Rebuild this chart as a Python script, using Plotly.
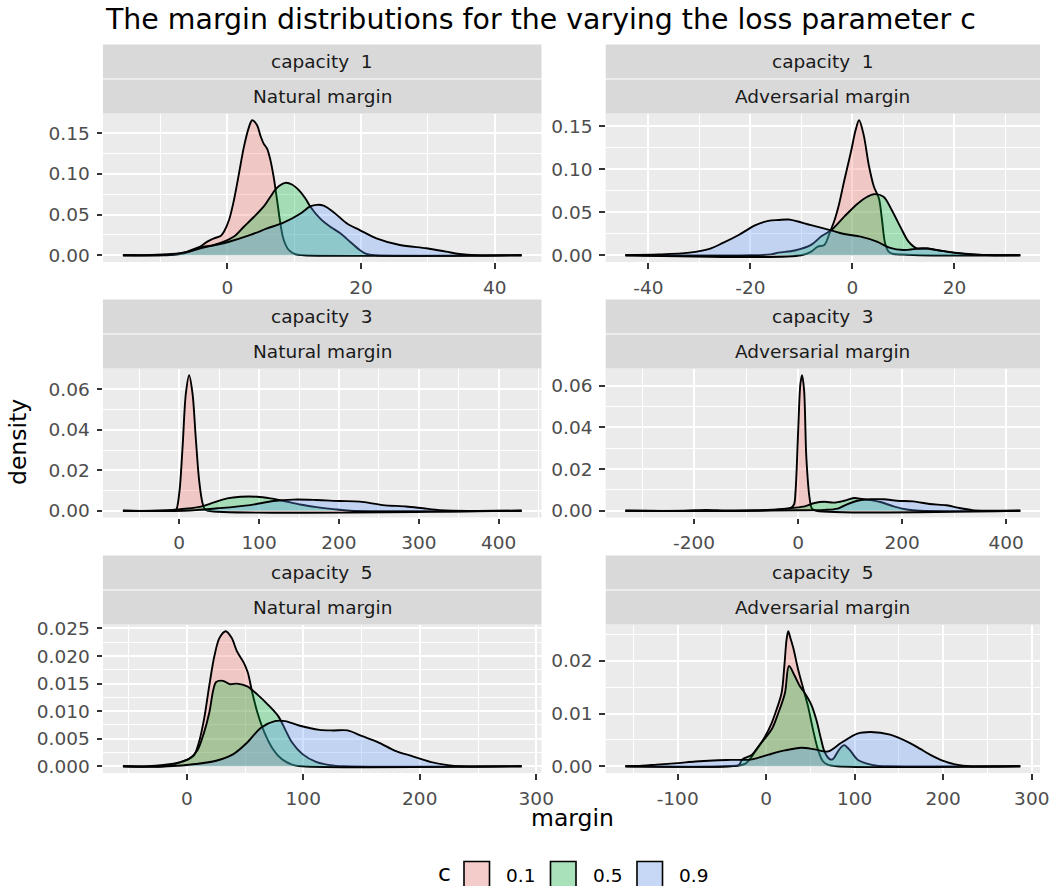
import plotly.graph_objects as go

# ---------------- data ----------------
C_LEVELS = ["0.1", "0.5", "0.9"]
ROW_LABELS = ["capacity\u00a0\u00a01", "capacity\u00a0\u00a03", "capacity\u00a0\u00a05"]
COL_LABELS = ["Natural margin", "Adversarial margin"]

# x tick positions per panel (labels use a plain hyphen like the reference)
n1_xticks = [0, 20, 40]
a1_xticks = [-40, -20, 0, 20]
n3_xticks = [0, 100, 200, 300, 400]
a3_xticks = [-200, 0, 200, 400]
n5_xticks = [0, 100, 200, 300]
a5_xticks = [-100, 0, 100, 200, 300]

# capacity 1, natural margin
n1_x_c01 = [-15.6, -8.5, -6.45, -4.46, -2.98, -1.98, -1.0, -0.5, 0.25, 1.0, 1.74, 2.48, 3.22, 3.72, 4.46, 4.96, 5.46, 5.95, 6.45, 6.94, 7.44, 7.94, 8.43, 9.18, 10.2, 11.4, 44.0]
n1_y_c01 = [0, 0.0003, 0.0024, 0.0086, 0.0167, 0.0208, 0.0237, 0.029, 0.043, 0.068, 0.100, 0.133, 0.157, 0.166, 0.160, 0.147, 0.137, 0.131, 0.117, 0.096, 0.068, 0.039, 0.019, 0.0065, 0.0012, 0, 0]
n1_x_c05 = [-15.6, -8.9, -5.95, -4.46, -3.47, -1.98, 1.0, 2.48, 3.97, 5.46, 6.45, 7.44, 8.68, 9.67, 10.7, 11.66, 12.4, 13.9, 15.4, 16.9, 18.35, 19.8, 20.8, 22.3, 44.0]
n1_y_c05 = [0, 0.0004, 0.0045, 0.0094, 0.0106, 0.0126, 0.023, 0.035, 0.047, 0.060, 0.072, 0.083, 0.089, 0.087, 0.080, 0.070, 0.060, 0.045, 0.035, 0.027, 0.0167, 0.0065, 0.0016, 0, 0]
n1_x_c09 = [-15.6, -11.4, -6.45, -4.0, 0.0, 3.47, 5.95, 8.4, 10.9, 12.4, 13.4, 14.4, 15.9, 17.9, 19.8, 22.3, 25.8, 29.8, 32.7, 34.7, 37.2, 44.0]
n1_y_c09 = [0, 0.0004, 0.0033, 0.0086, 0.016, 0.025, 0.033, 0.040, 0.051, 0.060, 0.062, 0.061, 0.053, 0.039, 0.031, 0.0208, 0.0126, 0.0086, 0.0045, 0.0016, 0, 0]

# capacity 1, adversarial margin
a1_x_c01 = [-44.5, -10.0, -8.1, -6.8, -5.5, -4.5, -3.5, -2.6, -1.6, -0.3, 0.6, 1.3, 2.2, 3.2, 4.2, 5.2, 5.8, 6.4, 7.1, 8.0, 10.0, 13.0, 32.9]
a1_y_c01 = [0, 0, 0.0042, 0.010, 0.012, 0.0255, 0.041, 0.060, 0.087, 0.120, 0.145, 0.157, 0.140, 0.105, 0.080, 0.066, 0.041, 0.014, 0.0042, 0.0015, 0.0008, 0, 0]
a1_x_c05 = [-44.5, -20.0, -16.0, -14.5, -11.3, -8.1, -6.1, -4.2, -1.6, 1.0, 2.9, 4.2, 6.1, 7.7, 9.4, 11.0, 12.6, 15.1, 16.5, 20.0, 24.0, 28.0, 32.9]
a1_y_c05 = [0, 0, 0.001, 0.003, 0.0055, 0.012, 0.022, 0.029, 0.045, 0.060, 0.068, 0.071, 0.068, 0.0526, 0.033, 0.0158, 0.0081, 0.0077, 0.006, 0.003, 0.0008, 0, 0]
a1_x_c09 = [-44.5, -38.0, -32.0, -28.0, -25.5, -22.3, -19.0, -16.5, -14.5, -12.5, -8.1, -4.2, -1.6, 1.6, 4.8, 7.4, 10.0, 13.9, 16.5, 19.7, 23.0, 28.0, 32.9]
a1_y_c09 = [0, 0.0008, 0.003, 0.0075, 0.014, 0.0236, 0.035, 0.040, 0.041, 0.0415, 0.035, 0.029, 0.0247, 0.0216, 0.0158, 0.0085, 0.0061, 0.0081, 0.0061, 0.003, 0.001, 0, 0]

# capacity 3, natural margin
n3_x_c01 = [-70.5, -8.0, -4.1, 0.0, 4.1, 8.3, 12.4, 16.6, 20.7, 24.9, 29.0, 32.0, 36.0, 428.6]
n3_y_c01 = [0, 0, 0.0003, 0.0086, 0.031, 0.058, 0.067, 0.058, 0.036, 0.015, 0.004, 0.0008, 0, 0]
n3_x_c05 = [-70.5, -35.0, -2.0, 27.0, 43.6, 60.0, 76.8, 97.5, 114.0, 131.0, 151.0, 172.0, 193.0, 214.0, 428.6]
n3_y_c05 = [0, 0, 0.0006, 0.002, 0.0041, 0.0061, 0.0069, 0.0069, 0.0061, 0.0048, 0.0031, 0.0018, 0.0008, 0, 0]
n3_x_c09 = [-70.5, 6.0, 48.0, 89.0, 118.0, 143.0, 172.0, 201.0, 226.0, 255.0, 284.0, 305.0, 326.0, 342.0, 428.6]
n3_y_c09 = [0, 0, 0.0012, 0.0028, 0.0048, 0.0055, 0.0053, 0.0048, 0.0045, 0.0028, 0.0021, 0.0012, 0.0003, 0, 0]

# capacity 3, adversarial margin
a3_x_c01 = [-332.0, -100.0, -50.0, -15.0, -8.0, -5.0, 0.0, 4.4, 7.6, 11.4, 15.8, 22.0, 26.6, 35.0, 427.0]
a3_y_c01 = [0, 0, 0.0005, 0.0012, 0.003, 0.0093, 0.038, 0.061, 0.065, 0.058, 0.0254, 0.006, 0.001, 0, 0]
a3_x_c05 = [-332.0, -89.0, -50.0, -12.7, 12.7, 31.6, 50.6, 69.6, 88.6, 107.6, 123.0, 139.0, 158.0, 183.5, 209.0, 234.0, 427.0]
a3_y_c05 = [0, 0, 0.0003, 0.0013, 0.0021, 0.0037, 0.0043, 0.0039, 0.0048, 0.0061, 0.0056, 0.0051, 0.0042, 0.0021, 0.0006, 0, 0]
a3_x_c09 = [-332.0, -220.0, -177.0, -140.0, -100.0, 0.0, 50.6, 76.0, 95.0, 114.0, 139.0, 165.0, 190.0, 221.5, 253.0, 285.0, 310.0, 335.0, 361.0, 427.0]
a3_y_c09 = [0, 0, 0.0004, 0.0001, 0.0001, 0.0002, 0.0004, 0.001, 0.0032, 0.0048, 0.0055, 0.0055, 0.0048, 0.0045, 0.0032, 0.0026, 0.0013, 0.0003, 0, 0]

# capacity 5, natural margin
n5_x_c01 = [-54.8, -19.0, -4.4, 5.9, 10.4, 14.8, 19.3, 23.7, 28.1, 33.5, 38.5, 43.0, 48.9, 52.4, 56.3, 60.7, 66.7, 74.0, 81.5, 90.4, 99.0, 287.4]
n5_y_c01 = [0, 0, 0.0008, 0.0019, 0.0043, 0.0085, 0.0146, 0.020, 0.0233, 0.0245, 0.0233, 0.0209, 0.0188, 0.017, 0.0133, 0.0097, 0.0061, 0.0031, 0.0013, 0.0003, 0, 0]
n5_x_c05 = [-54.8, -34.0, -10.4, 1.5, 8.9, 14.8, 19.3, 22.8, 25.2, 31.1, 37.0, 43.0, 51.9, 60.7, 69.6, 78.5, 84.4, 90.4, 99.3, 111.0, 123.0, 135.0, 287.4]
n5_y_c05 = [0, 0, 0.0005, 0.0013, 0.0028, 0.0061, 0.0097, 0.0139, 0.0153, 0.0155, 0.0149, 0.015, 0.0145, 0.013, 0.0112, 0.0091, 0.0067, 0.0043, 0.0022, 0.0008, 0.0002, 0, 0]
n5_x_c09 = [-54.8, -16.0, 7.4, 25.2, 40.0, 51.9, 63.7, 75.6, 84.4, 96.3, 114.0, 126.0, 138.0, 150.0, 164.0, 179.0, 194.0, 209.0, 224.0, 235.5, 287.4]
n5_y_c09 = [0, 0, 0.0004, 0.001, 0.0022, 0.0043, 0.007, 0.0082, 0.0082, 0.0074, 0.0066, 0.0065, 0.0065, 0.0055, 0.0044, 0.0028, 0.0018, 0.0008, 0.0002, 0, 0]

# capacity 5, adversarial margin
a5_x_c01 = [-159.0, -45.7, -23.4, -12.3, -1.1, 6.2, 11.8, 17.4, 20.5, 23.0, 24.9, 27.0, 30.5, 36.0, 41.6, 47.2, 52.8, 58.4, 63.9, 69.5, 80.0, 287.0]
a5_y_c01 = [0, 0, 0.0005, 0.0028, 0.0057, 0.0082, 0.0108, 0.0139, 0.019, 0.024, 0.0256, 0.0245, 0.0225, 0.0184, 0.0149, 0.0114, 0.007, 0.0032, 0.001, 0.0003, 0, 0]
a5_x_c05 = [-159.0, -40.0, -31.0, -27.0, -16.0, -8.6, 6.2, 13.7, 21.2, 25.7, 32.3, 37.9, 43.5, 50.9, 56.5, 62.0, 65.8, 71.4, 75.0, 82.6, 88.0, 93.8, 103.0, 114.0, 125.0, 140.0, 287.0]
a5_y_c05 = [0, 0, 0.0002, 0.0013, 0.0022, 0.0038, 0.007, 0.0101, 0.0139, 0.019, 0.0171, 0.0152, 0.0139, 0.0117, 0.0089, 0.0051, 0.0028, 0.0014, 0.0013, 0.0032, 0.004, 0.0032, 0.0013, 0.0005, 0.0001, 0, 0]
a5_x_c09 = [-159.0, -140.0, -124.0, -100.0, -80.0, -60.0, -40.0, -16.0, 2.6, 21.0, 39.7, 54.7, 69.5, 84.4, 103.0, 118.0, 140.0, 162.5, 174.0, 185.0, 200.0, 215.0, 230.0, 287.0]
a5_y_c09 = [0, 0.0001, 0.0003, 0.0006, 0.0009, 0.0011, 0.0012, 0.0013, 0.0022, 0.003, 0.0035, 0.0032, 0.0028, 0.0044, 0.0062, 0.0065, 0.006, 0.0044, 0.0033, 0.0022, 0.001, 0.0003, 0, 0]

# ---------------- styling ----------------
W, H = 1055, 886
FONT = "DejaVu Sans"
FILLS = ["rgba(248,118,109,0.3)", "rgba(0,186,56,0.3)", "rgba(97,156,255,0.3)"]
TICK_SIZE = 18.5

# panel pixel boxes (left, right) and (top, bottom)
COLS_PX = [(103.0, 541.5), (605.7, 1040.0)]
ROWS_PX = [(113.5, 262.0), (368.5, 517.5), (624.5, 773.0)]

panels = [
    # (row, col, curves, x ticks, y dtick, y format)
    (0, 0, [(n1_x_c01, n1_y_c01), (n1_x_c05, n1_y_c05), (n1_x_c09, n1_y_c09)], n1_xticks, 0.05, ".2f"),
    (0, 1, [(a1_x_c01, a1_y_c01), (a1_x_c05, a1_y_c05), (a1_x_c09, a1_y_c09)], a1_xticks, 0.05, ".2f"),
    (1, 0, [(n3_x_c01, n3_y_c01), (n3_x_c05, n3_y_c05), (n3_x_c09, n3_y_c09)], n3_xticks, 0.02, ".2f"),
    (1, 1, [(a3_x_c01, a3_y_c01), (a3_x_c05, a3_y_c05), (a3_x_c09, a3_y_c09)], a3_xticks, 0.02, ".2f"),
    (2, 0, [(n5_x_c01, n5_y_c01), (n5_x_c05, n5_y_c05), (n5_x_c09, n5_y_c09)], n5_xticks, 0.005, ".3f"),
    (2, 1, [(a5_x_c01, a5_y_c01), (a5_x_c05, a5_y_c05), (a5_x_c09, a5_y_c09)], a5_xticks, 0.01, ".2f"),
]


def px_x(p):
    return p / W


def px_y(p):
    return 1 - p / H


fig = go.Figure()
layout = dict(
    width=W, height=H, margin=dict(l=0, r=0, t=0, b=0),
    paper_bgcolor="white", plot_bgcolor="#EBEBEB",
    showlegend=False, template="none",
    font=dict(family=FONT, color="#4D4D4D", size=TICK_SIZE),
)
shapes = []
annotations = []

for i, (r, c, curves, xticks, ydt, yfmt) in enumerate(panels):
    n = i + 1
    xa = "x" if n == 1 else f"x{n}"
    ya = "y" if n == 1 else f"y{n}"
    xs_all = [v for xs, _ in curves for v in xs]
    ys_all = [v for _, ys in curves for v in ys]
    xmin, xmax = min(xs_all), max(xs_all)
    ymax = max(ys_all)
    xpad = 0.05 * (xmax - xmin)
    xdt = xticks[1] - xticks[0]
    for k, (xs, ys) in enumerate(curves):
        fig.add_trace(go.Scatter(
            x=xs, y=ys, xaxis=xa, yaxis=ya, mode="lines",
            line=dict(color="black", width=1.9, shape="spline", smoothing=0.9),
            fill="tozeroy", fillcolor=FILLS[k], name=C_LEVELS[k],
            showlegend=False, hoverinfo="skip",
        ))
    l, rr = COLS_PX[c]
    t, b = ROWS_PX[r]
    common = dict(showline=False, zeroline=False, showgrid=True, gridcolor="white",
                  ticks="outside", ticklen=5.5, tickwidth=1.6, tickcolor="#333333",
                  tickfont=dict(family=FONT, size=TICK_SIZE, color="#4D4D4D"),
                  automargin=False, ticklabelstandoff=3, fixedrange=True)
    layout["xaxis" if n == 1 else f"xaxis{n}"] = dict(
        common, domain=[px_x(l), px_x(rr)], anchor=ya,
        range=[xmin - xpad, xmax + xpad], tickmode="array",
        tickvals=xticks, ticktext=[str(v) for v in xticks], gridwidth=2.0,
        minor=dict(tickmode="linear", tick0=0, dtick=xdt / 2, showgrid=True,
                   gridcolor="white", gridwidth=1.0, ticklen=0),
    )
    layout["yaxis" if n == 1 else f"yaxis{n}"] = dict(
        common, domain=[px_y(b), px_y(t)], anchor=xa,
        range=[-0.05 * ymax, 1.05 * ymax], tick0=0, dtick=ydt, tickformat=yfmt, gridwidth=2.0,
        minor=dict(tickmode="linear", tick0=0, dtick=ydt / 2, showgrid=True,
                   gridcolor="white", gridwidth=1.0, ticklen=0),
    )
    # facet strips (two stacked labels)
    s_top = t - 69.0
    for j, (y0, y1, txt) in enumerate([(s_top, s_top + 34.0, ROW_LABELS[r]),
                                       (s_top + 35.0, t, COL_LABELS[c])]):
        shapes.append(dict(type="rect", xref="paper", yref="paper",
                           x0=px_x(l), x1=px_x(rr), y0=px_y(y1), y1=px_y(y0),
                           fillcolor="#D9D9D9", line=dict(width=0), layer="below"))
        annotations.append(dict(xref="paper", yref="paper", x=px_x((l + rr) / 2),
                                y=px_y((y0 + y1) / 2), text=txt, showarrow=False,
                                xanchor="center", yanchor="middle",
                                font=dict(family=FONT, size=TICK_SIZE, color="#1A1A1A")))

# title and axis titles
annotations.append(dict(xref="paper", yref="paper", x=px_x(103), y=px_y(20),
                        text="The margin distributions for the varying the loss parameter c",
                        showarrow=False, xanchor="left", yanchor="middle",
                        font=dict(family=FONT, size=28.4, color="black")))
annotations.append(dict(xref="paper", yref="paper", x=px_x(573), y=px_y(818), text="margin",
                        showarrow=False, xanchor="center", yanchor="middle",
                        font=dict(family=FONT, size=23.5, color="black")))
annotations.append(dict(xref="paper", yref="paper", x=px_x(18), y=px_y(442), text="density",
                        showarrow=False, xanchor="center", yanchor="middle", textangle=-90,
                        font=dict(family=FONT, size=23.5, color="black")))

# legend (bottom, horizontal)
annotations.append(dict(xref="paper", yref="paper", x=px_x(444), y=px_y(873), text="c",
                        showarrow=False, xanchor="center", yanchor="middle",
                        font=dict(family=FONT, size=23.5, color="black")))
key_left = [463.0, 549.5, 636.0]
for k, lab in enumerate(C_LEVELS):
    x0 = key_left[k]
    shapes.append(dict(type="rect", xref="paper", yref="paper",
                       x0=px_x(x0), x1=px_x(x0 + 27.5), y0=px_y(888), y1=px_y(860.5),
                       fillcolor="#F2F2F2", line=dict(width=0)))
    shapes.append(dict(type="rect", xref="paper", yref="paper",
                       x0=px_x(x0 + 1), x1=px_x(x0 + 26.5), y0=px_y(887), y1=px_y(861.5),
                       fillcolor=FILLS[k], line=dict(color="black", width=1.6)))
    annotations.append(dict(xref="paper", yref="paper", x=px_x(x0 + 41), y=px_y(875), text=lab,
                            showarrow=False, xanchor="left", yanchor="middle",
                            font=dict(family=FONT, size=TICK_SIZE, color="#000000")))

layout["shapes"] = shapes
layout["annotations"] = annotations
fig.update_layout(**layout)

fig.write_html("out.html", config={"displayModeBar": False},
               post_script="document.body.style.margin='0';document.body.style.overflow='hidden';")
